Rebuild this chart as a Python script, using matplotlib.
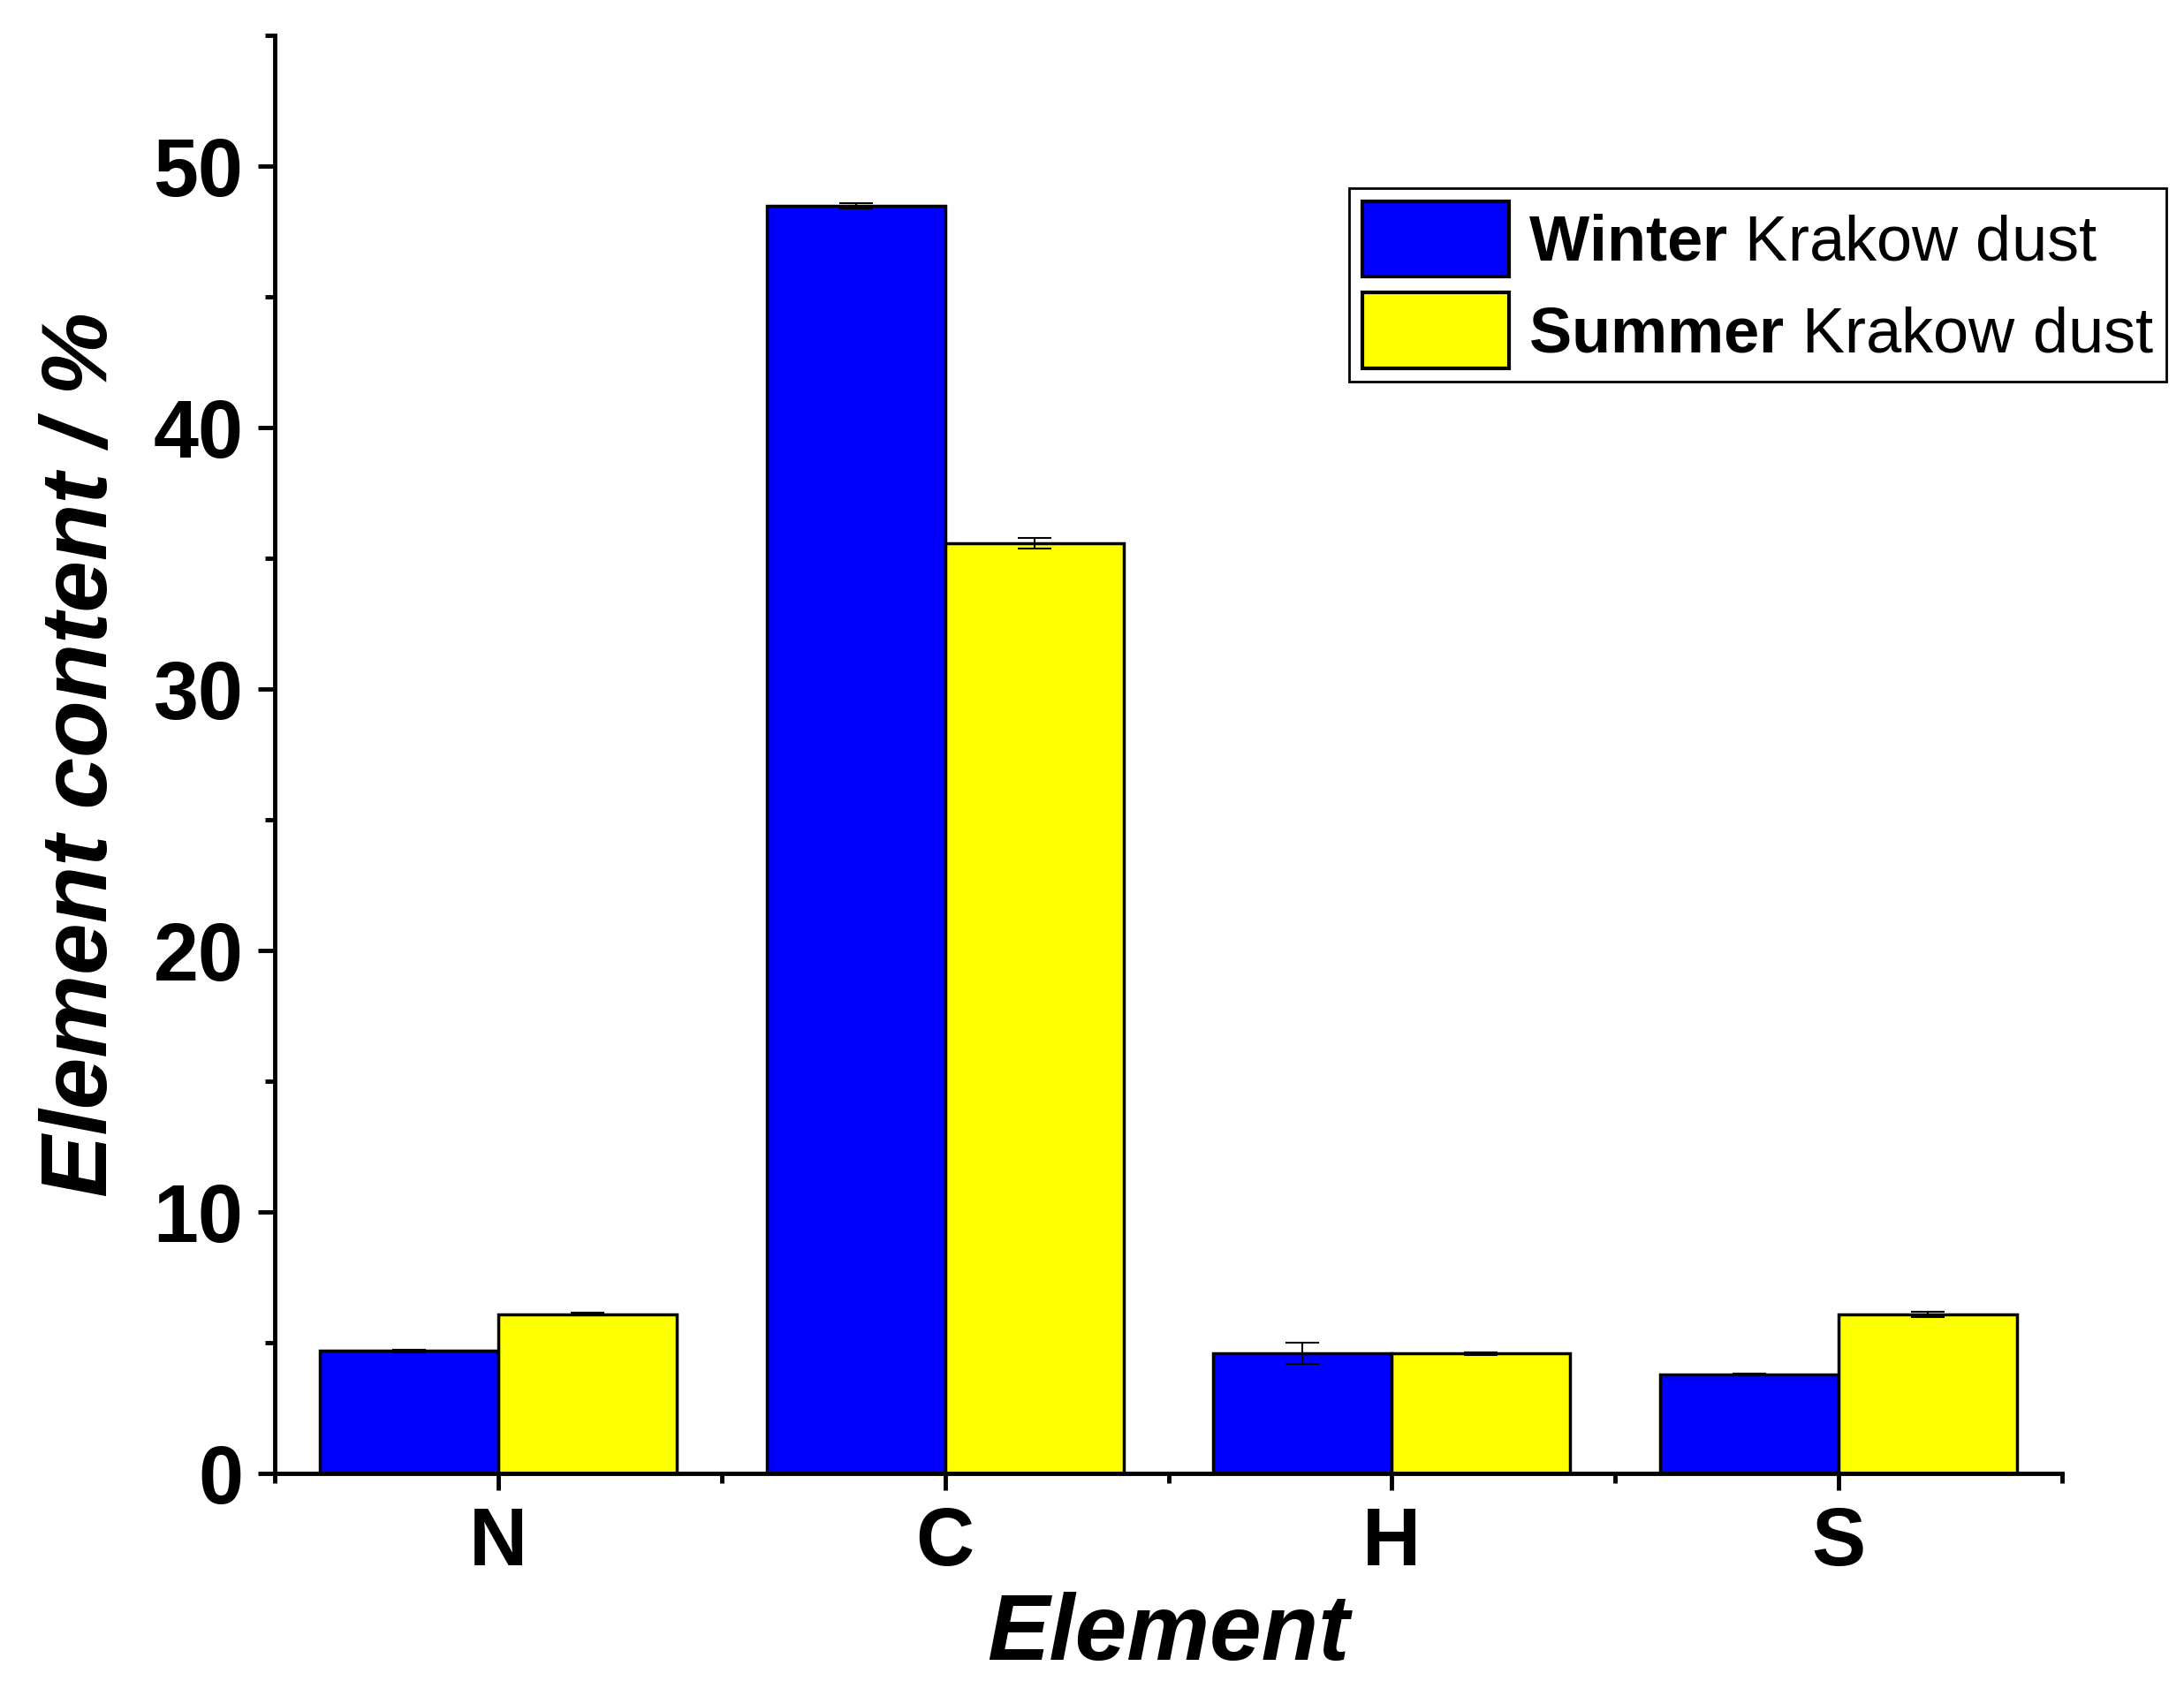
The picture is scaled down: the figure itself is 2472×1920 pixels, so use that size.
import numpy as np
import matplotlib
matplotlib.use('Agg')
import matplotlib.pyplot as plt
from matplotlib.ticker import MultipleLocator

plt.rcParams['font.family'] = ['Liberation Sans', 'DejaVu Sans']
plt.rcParams['mathtext.fontset'] = 'custom'
plt.rcParams['mathtext.rm'] = 'Liberation Sans'
plt.rcParams['mathtext.bf'] = 'Liberation Sans:bold'

elements = ['N', 'C', 'H', 'S']
winter = [4.7, 48.5, 4.6, 3.8]
winter_err = [0.05, 0.1, 0.4, 0.05]
summer = [6.1, 35.6, 4.6, 6.1]
summer_err = [0.05, 0.2, 0.05, 0.1]

fig = plt.figure(figsize=(24.72, 19.2), dpi=100)
ax = fig.add_axes([0.126, 0.131, 0.818, 0.848])

x = np.arange(len(elements))
w = 0.4
ax.bar(x - w / 2, winter, w, color='#0000ff', edgecolor='black', linewidth=2.5,
       yerr=winter_err, error_kw=dict(ecolor='black', elinewidth=1.5, capsize=14, capthick=1.5),
       label='$\\bf{Winter}$ Krakow dust')
ax.bar(x + w / 2, summer, w, color='#ffff00', edgecolor='black', linewidth=2.5,
       yerr=summer_err, error_kw=dict(ecolor='black', elinewidth=1.5, capsize=14, capthick=1.5),
       label='$\\bf{Summer}$ Krakow dust')

ax.set_xlim(-0.5, 3.5)
ax.set_ylim(0, 55)
ax.set_xticks(x)
ax.set_xticklabels(elements)
ax.set_xticks(np.arange(-0.5, 4, 1), minor=True)
ax.yaxis.set_major_locator(MultipleLocator(10))
ax.yaxis.set_minor_locator(MultipleLocator(5))

for s in ['top', 'right']:
    ax.spines[s].set_visible(False)
for s in ['left', 'bottom']:
    ax.spines[s].set_linewidth(3.5)
ax.tick_params(which='major', direction='out', length=14, width=3.5, labelsize=66, pad=12)
ax.tick_params(which='minor', direction='out', length=8, width=3.5)
for lab in ax.get_xticklabels() + ax.get_yticklabels():
    lab.set_fontweight('bold')

ax.set_xlabel('Element', fontsize=76, fontweight='bold', style='italic', labelpad=8)
ax.set_ylabel('Element content / %', fontsize=76, fontweight='bold', style='italic', labelpad=22)

leg = fig.legend(loc='upper right', bbox_to_anchor=(0.992, 0.889), fontsize=52, fancybox=False,
                 edgecolor='black', framealpha=1, handlelength=2.3, handleheight=1.45,
                 borderpad=0.2, labelspacing=0.25, handletextpad=0.3, borderaxespad=0)
leg.get_frame().set_linewidth(2)
for p in leg.get_patches():
    p.set_linewidth(3)

fig.savefig('out.png', dpi=100)
